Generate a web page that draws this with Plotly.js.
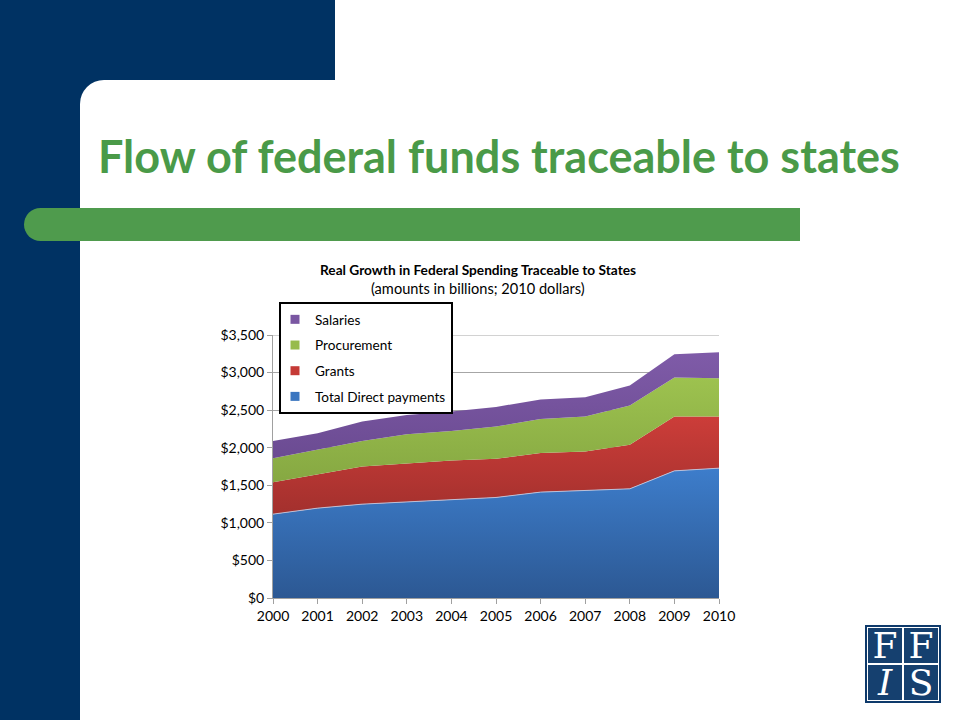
<!DOCTYPE html>
<html>
<head>
<meta charset="utf-8">
<script src="https://cdn.plot.ly/plotly-3.0.1.min.js"></script>
<style>
  html, body { margin:0; padding:0; width:960px; height:720px; overflow:hidden; background:#ffffff; }
  #navy { position:absolute; left:0; top:0; width:335px; height:720px; background:#003263; }
  #card { position:absolute; left:80px; top:80px; width:880px; height:640px; background:#ffffff; border-top-left-radius:24px; }
  #bar { position:absolute; left:24px; top:208px; width:776px; height:33px; background:#4f9b4d; border-radius:17px 0 0 17px; }
  #title { position:absolute; left:98px; top:129px; margin:0; font-family:Lato, 'Open Sans', sans-serif; font-weight:700;
           font-size:45px; color:#4a9a48; white-space:nowrap; letter-spacing:0px; }
  #logo { position:absolute; left:865px; top:625px; width:76px; height:78px; background:#0e3a6b; }
  .q { position:absolute; width:34px; height:35px; background:#15406f; border:1px solid #ffffff; color:#ffffff;
       font-family:'DejaVu Serif','Liberation Serif',serif; font-size:36px; line-height:36px; text-align:center; }
  #plot { position:absolute; left:0; top:0; width:960px; height:720px; }
</style>
</head>
<body>
<div id="navy"></div>
<div id="card"></div>
<div id="bar"></div>
<h1 id="title">Flow of federal funds traceable to states</h1>
<div id="logo">
  <div class="q" style="left:2px;top:2px;">F</div>
  <div class="q" style="left:38px;top:2px;">F</div>
  <div class="q" style="left:2px;top:39px;font-style:italic;">I</div>
  <div class="q" style="left:38px;top:39px;">S</div>
</div>
<div id="plot"></div>
<script>
// Data (billions, 2010 dollars)
const years = [2000, 2001, 2002, 2003, 2004, 2005, 2006, 2007, 2008, 2009, 2010];
const directPayments = [1116, 1196, 1249, 1276, 1302, 1338, 1409, 1431, 1453, 1692, 1728];
const grants         = [426, 452, 501, 514, 528, 514, 522, 518, 585, 723, 687];
const procurement    = [319, 323, 341, 390, 394, 430, 452, 466, 523, 518, 509];
const salaries       = [230, 222, 257, 257, 257, 261, 258, 256, 266, 310, 346];
const yTickVals   = [0, 500, 1000, 1500, 2000, 2500, 3000, 3500];
const yTickLabels = ['$0', '$500', '$1,000', '$1,500', '$2,000', '$2,500', '$3,000', '$3,500'];
const seriesNames = ['Total Direct payments', 'Grants', 'Procurement', 'Salaries'];
const seriesValues = [directPayments, grants, procurement, salaries];
const topColors = ['#3d7dcb', '#cc3d39', '#9dc24f', '#7f5ba8'];
const bottomColors = ['#2c5893', '#a3302d', '#86a842', '#6b4b92'];
const legendColors = ['#3b76c0', '#c53a36', '#97bb4c', '#7a57a2'];

const traces = [];
seriesValues.forEach((vals, i) => {
  traces.push({
    type: 'scatter', mode: 'lines', x: years, y: vals, stackgroup: 'one',
    name: seriesNames[i], showlegend: false, hoverinfo: 'x+y+name',
    line: { width: i === 0 ? 1 : 0, color: i === 0 ? 'rgba(190,200,225,0.9)' : topColors[i] },
    fillcolor: topColors[i],
    fillgradient: { type: 'vertical', colorscale: [[0, bottomColors[i]], [1, topColors[i]]] }
  });
});
// legend entries, top to bottom: Salaries, Procurement, Grants, Total Direct payments
for (let i = seriesValues.length - 1; i >= 0; i--) {
  traces.push({
    type: 'scatter', mode: 'markers', x: [null], y: [null], name: seriesNames[i],
    legendgroup: 'g' + i, showlegend: true,
    marker: { symbol: 'square', size: 9, color: legendColors[i] }
  });
}

const L = 273, R = 719, T = 335, B = 598;
const layout = {
  width: 960, height: 720,
  margin: { l: L, r: 960 - R, t: T, b: 720 - B, pad: 0 },
  paper_bgcolor: 'rgba(0,0,0,0)', plot_bgcolor: 'rgba(0,0,0,0)',
  font: { family: 'Lato, "Open Sans", sans-serif', size: 14, color: '#000000' },
  showlegend: true,
  xaxis: {
    range: [2000, 2010], dtick: 1, tick0: 2000, showgrid: false, zeroline: false,
    showline: true, linecolor: '#a0a0a0', linewidth: 1,
    ticks: 'outside', ticklen: 5, tickcolor: '#a0a0a0',
    tickfont: { size: 14, color: '#000' }
  },
  yaxis: {
    range: [0, 3500], tickmode: 'array', tickvals: yTickVals, ticktext: yTickLabels,
    showgrid: true, gridcolor: '#a6a6a6', gridwidth: 1, zeroline: false,
    showline: true, linecolor: '#a0a0a0', linewidth: 1,
    ticks: 'outside', ticklen: 5, tickcolor: '#a0a0a0',
    tickfont: { size: 14, color: '#000' }
  },
  legend: {
    x: (279 - L) / (R - L), y: (B - 302) / (B - T), xanchor: 'left', yanchor: 'top',
    bgcolor: '#ffffff', bordercolor: '#000000', borderwidth: 2,
    traceorder: 'grouped', tracegroupgap: 5, indentation: -6,
    font: { size: 13.6, color: '#000' }, itemwidth: 30
  },
  annotations: [
    { xref: 'paper', yref: 'paper', x: (478 - L) / (R - L), y: (B - 269) / (B - T), xanchor: 'center', yanchor: 'middle',
      text: '<b>Real Growth in Federal Spending Traceable to States</b>', showarrow: false, font: { size: 13.7 } },
    { xref: 'paper', yref: 'paper', x: (478 - L) / (R - L), y: (B - 288) / (B - T), xanchor: 'center', yanchor: 'middle',
      text: '(amounts in billions; 2010 dollars)', showarrow: false, font: { size: 14.6 } }
  ],
  shapes: [
    // top gridline at the edge of the plot area
    { type: 'line', xref: 'paper', yref: 'y', layer: 'below', x0: 0, x1: 1,
      y0: yTickVals[yTickVals.length - 1], y1: yTickVals[yTickVals.length - 1], line: { color: '#a6a6a6', width: 1 } },
    // legend drop shadow
    { type: 'rect', xref: 'paper', yref: 'paper', layer: 'above',
      x0: (282 - L) / (R - L), x1: (446 - L) / (R - L), y0: (B - 408) / (B - T), y1: (B - 306) / (B - T),
      fillcolor: 'rgba(0,0,0,0.25)', line: { width: 0 } }
  ]
};
Plotly.newPlot('plot', traces, layout, { displayModeBar: false, staticPlot: true });
</script>
</body>
</html>
